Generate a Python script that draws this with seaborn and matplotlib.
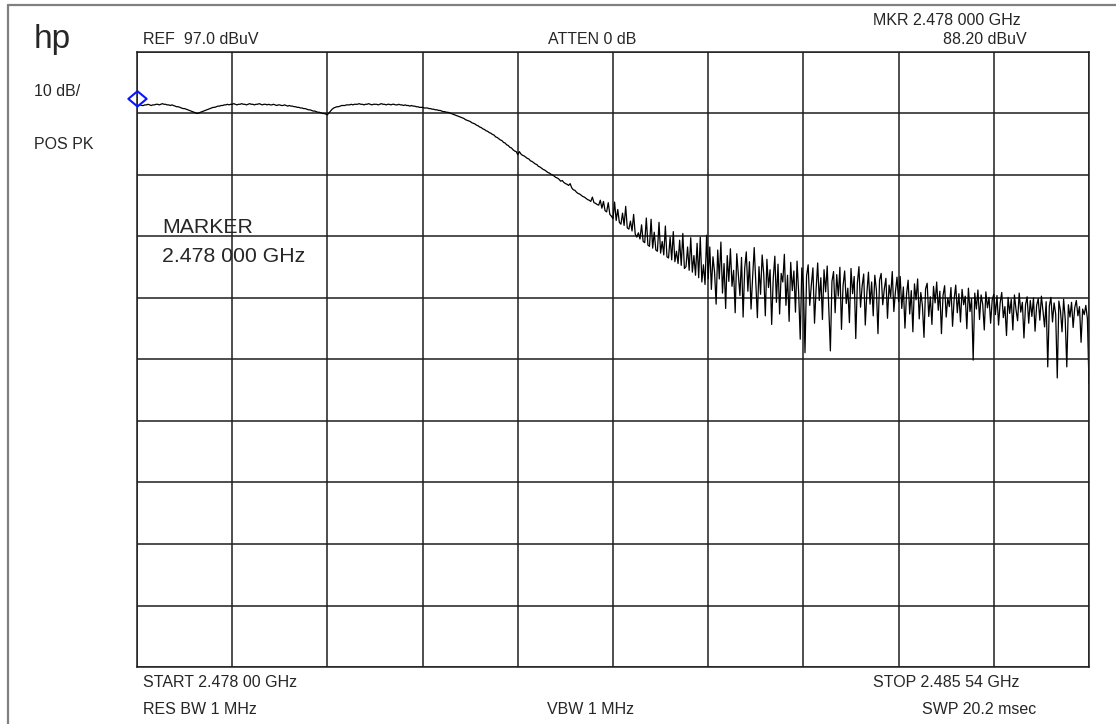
import numpy as np
import matplotlib as mpl
import matplotlib.pyplot as plt
import seaborn as sns
from matplotlib.lines import Line2D
from matplotlib.path import Path

# instrument settings
START_GHZ = 2.47800
STOP_GHZ = 2.48554
REF_DBUV = 97.0
DB_PER_DIV = 10
MARKER_GHZ = 2.478000
MARKER_DBUV = 88.20

# trace levels in dBuV (601 sweep points, left to right)
flat_part = [
    88.2, 88.3, 88.4, 88.3, 88.3, 88.4, 88.4, 88.5, 88.4, 88.3, 88.4, 88.4, 88.5, 88.5, 88.4, 88.5, 88.6, 88.5,
    88.5, 88.4, 88.4, 88.3, 88.4, 88.3, 88.2, 88.1, 88.1, 88.0,
    87.9, 87.8, 87.8, 87.7, 87.6, 87.5, 87.4, 87.3, 87.2, 87.1, 87.0,
    87.1, 87.2, 87.3, 87.4, 87.5, 87.6, 87.7, 87.8, 87.9, 88.0, 88.0, 88.1, 88.2, 88.2, 88.3, 88.3, 88.4, 88.4,
    88.5, 88.4, 88.5, 88.5, 88.6, 88.5, 88.4, 88.5, 88.5, 88.6, 88.5, 88.5, 88.4, 88.5, 88.6, 88.5, 88.5, 88.4,
    88.5, 88.5, 88.6, 88.5, 88.4, 88.5, 88.5, 88.4, 88.5, 88.4, 88.4, 88.5, 88.4, 88.3, 88.4, 88.4, 88.3, 88.3,
    88.4, 88.3, 88.2, 88.3,
    88.2, 88.2, 88.1, 88.1, 88.0, 88.0, 87.9, 87.9, 87.8, 87.8, 87.7, 87.6, 87.6, 87.5, 87.4, 87.4, 87.3, 87.2,
    87.2, 87.1, 87.0, 87.0, 86.9, 86.8,
    87.1, 87.4, 87.7, 87.9, 88.0, 88.1, 88.1, 88.2, 88.3, 88.3, 88.3, 88.4, 88.4, 88.4,
    88.5, 88.4, 88.5, 88.5, 88.5, 88.6, 88.5, 88.5, 88.4, 88.5, 88.5, 88.6, 88.5, 88.4, 88.5, 88.5, 88.5, 88.4,
    88.5, 88.6, 88.5, 88.5, 88.4, 88.5, 88.5, 88.4, 88.5, 88.5, 88.4, 88.4, 88.5, 88.4, 88.4, 88.3, 88.4, 88.3,
    88.3, 88.2, 88.3, 88.2, 88.2, 88.1, 88.1, 88.0,
]
rolloff_part = [
    88.0, 88.0, 87.9, 87.9, 87.9, 87.8, 87.8, 87.7, 87.7, 87.6, 87.6, 87.5, 87.5, 87.4, 87.3, 87.3, 87.2, 87.2,
    87.1, 87.0, 86.9, 86.8, 86.7, 86.6, 86.5, 86.4, 86.3, 86.2, 86.0, 85.9, 85.8, 85.7, 85.5, 85.4, 85.3, 85.1,
    85.0, 84.8, 84.7, 84.5, 84.4, 84.2, 84.1, 83.9, 83.8, 83.6, 83.5, 83.2, 83.1, 82.9, 82.7, 82.6, 82.3, 82.2,
    81.9, 81.8, 81.5, 81.4, 81.1, 80.9, 80.8, 80.3, 80.8, 80.4, 80.2, 80.1, 79.9, 79.7, 79.6, 79.3, 79.2, 79.0,
    78.8, 78.7, 78.4, 78.3, 78.1, 77.9, 77.8, 77.6, 77.4, 77.3, 77.1, 77.0, 76.8, 76.6, 76.5, 76.3, 76.0, 76.1,
    75.8, 75.6, 75.5, 75.3, 75.6, 74.9, 74.6, 74.5, 74.2, 74.0, 73.9, 73.7, 73.5, 73.4, 73.2, 73.0, 72.9, 72.7,
    73.4, 72.5, 72.4, 72.2,
]
spur_part = [
    72.1, 72.9, 71.6, 72.7, 71.2, 71.0, 72.5, 70.6, 70.3, 69.9, 72.6, 69.6, 71.4, 69.3, 69.0, 70.8, 68.8, 71.9,
    68.4, 68.2, 69.5, 67.9, 70.6, 67.4, 66.9, 67.6, 66.6, 68.9, 66.2, 66.0, 70.0, 65.6, 65.4, 69.8, 65.1, 67.7,
    64.8, 64.6, 69.3, 64.3, 66.2, 64.0, 68.7, 63.7, 63.5, 66.9, 63.2, 67.8, 62.9, 64.6, 62.6, 66.4, 62.3, 67.5,
    61.8, 62.1, 65.3, 61.5, 66.8, 61.2, 63.9, 60.7, 65.9, 60.3, 66.9, 59.6, 62.4, 59.2, 67.2, 60.1,
]
noise_part = [
    65.3, 58.4, 63.7, 61.2, 56.0, 64.8, 60.1, 66.1, 57.8, 62.6, 55.3, 63.9, 59.7, 65.0, 58.9, 61.5, 54.6, 64.2,
    60.8, 57.4, 63.6, 53.9, 61.8, 64.5, 58.1, 62.9, 55.2, 60.4, 65.2, 59.3, 53.8, 62.1, 57.6, 64.0, 60.9, 54.1,
    63.3, 58.7, 61.6, 52.7, 60.2, 63.8, 56.3, 62.5, 54.4, 61.0, 59.6, 64.1, 55.8, 60.7, 53.2, 62.8, 58.2, 61.4,
    54.7, 63.0, 57.9, 50.3, 61.9, 59.0,
    48.1, 60.6, 62.4, 55.8, 59.1, 61.9, 52.9, 58.4, 62.7, 56.6, 60.3, 53.5, 61.6, 58.0, 62.2, 55.2, 48.4, 59.7,
    61.3, 54.6, 60.8, 57.3, 62.0, 51.9, 59.0, 61.4, 56.1, 58.6, 53.0, 61.8, 57.7, 60.5, 50.4, 59.4, 62.1, 55.5,
    58.9, 60.9, 52.6, 57.8, 61.2, 56.0, 59.6, 54.1, 60.7, 58.3, 51.2, 59.9, 61.0, 55.9, 58.5, 60.2, 53.7, 59.1,
    57.2, 61.3, 54.8, 58.0, 60.4, 56.4,
    60.5, 55.3, 58.8, 52.1, 57.6, 59.9, 54.4, 58.2, 51.5, 59.3, 56.7, 60.1, 53.6, 57.9, 55.8, 50.6, 58.5, 59.4,
    54.0, 57.2, 52.7, 58.9, 56.2, 59.6, 55.0, 58.1, 51.2, 57.4, 59.0, 53.9, 57.0, 55.6, 58.7, 52.4, 56.8, 59.1,
    54.6, 57.7, 53.1, 58.4, 55.9, 57.3, 52.0, 58.6, 54.8, 56.9, 46.9, 57.8, 55.2, 58.3, 53.5, 57.5, 56.0, 51.8,
    58.0, 55.4, 57.1, 52.9, 56.7, 57.6,
    54.3, 57.4, 52.6, 56.2, 57.9, 53.8, 55.6, 50.9, 57.1, 54.5, 56.8, 51.8, 57.5, 55.1, 53.3, 57.8, 54.7, 56.3,
    50.5, 55.9, 57.2, 52.9, 56.6, 54.0, 57.0, 51.6, 55.8, 56.9, 53.4, 57.3, 54.9, 52.3, 56.4, 45.8, 55.7, 57.1,
    53.1, 56.2, 54.4, 44.0, 56.5, 55.0, 51.5, 56.8, 53.6, 45.8, 55.9, 53.9, 56.3, 52.2, 55.4, 56.6, 54.1, 55.6,
    49.8, 55.2, 54.3, 55.8, 53.6, 43.0,
]

W, H = 1116, 724


def px(x, y):
    # screen pixel -> figure fraction
    return x / W, 1 - y / H


sns.set_style("white")
plt.rcParams['font.family'] = ['Liberation Sans', 'DejaVu Sans']

level = np.array(flat_part + rolloff_part + spur_part + noise_part)
freq = np.linspace(START_GHZ, STOP_GHZ, len(level))

fig = plt.figure(figsize=(W / 100, H / 100), dpi=100)
x0, y1 = px(137, 52)
x1, y0 = px(1089, 667)
ax = fig.add_axes([x0, y0, x1 - x0, y1 - y0])

sns.lineplot(x=freq, y=level, ax=ax, color='black', lw=0.9, estimator=None, sort=False)

bottom_db = REF_DBUV - 10 * DB_PER_DIV
ax.set_xlim(START_GHZ, STOP_GHZ)
ax.set_ylim(bottom_db, REF_DBUV)
ax.set_xticks(np.linspace(START_GHZ, STOP_GHZ, 11))
ax.set_yticks(np.linspace(bottom_db, REF_DBUV, 11))
ax.tick_params(length=0, labelbottom=False, labelleft=False)
ax.grid(True, color='#1e1e1e', lw=1.1)
ax.set_axisbelow(True)
ax.set_xlabel('')
ax.set_ylabel('')
for s in ax.spines.values():
    s.set_color('#1e1e1e')
    s.set_linewidth(1.1)

# marker diamond sitting on the trace point
diamond = Path([(0, 0), (1.2, 1), (0, 2), (-1.2, 1), (0, 0)],
               [Path.MOVETO, Path.LINETO, Path.LINETO, Path.LINETO, Path.CLOSEPOLY])
ax.plot([MARKER_GHZ], [MARKER_DBUV], marker=diamond, ms=22, mfc='none', mec='#0a14ff',
        mew=1.5, clip_on=False, zorder=5)

# outer frame (top and left edges only)
fig.add_artist(Line2D([8 / W, 1], [1 - 5 / H, 1 - 5 / H], color='#808080', lw=1.6))
fig.add_artist(Line2D([8 / W, 8 / W], [1 - 5 / H, 0], color='#808080', lw=1.6))

fs = 11.5
fig.text(*px(34, 48), "hp", fontsize=24, va='baseline')
fig.text(*px(34, 96), "10 dB/", fontsize=fs, va='baseline')
fig.text(*px(34, 149), "POS PK", fontsize=fs, va='baseline')
fig.text(*px(143, 44), "REF  97.0 dBuV", fontsize=fs, va='baseline')
fig.text(*px(636, 44), "ATTEN 0 dB", fontsize=fs, va='baseline', ha='right')
fig.text(*px(1021, 25), "MKR 2.478 000 GHz", fontsize=fs, va='baseline', ha='right')
fig.text(*px(1027, 44), "88.20 dBuV", fontsize=fs, va='baseline', ha='right')
fig.text(*px(162, 233), "MARKER", fontsize=15.3, va='baseline')
fig.text(*px(162, 262), "2.478 000 GHz", fontsize=15.3, va='baseline')
fig.text(*px(143, 687), "START 2.478 00 GHz", fontsize=fs, va='baseline')
fig.text(*px(1019, 687), "STOP 2.485 54 GHz", fontsize=fs, va='baseline', ha='right')
fig.text(*px(143, 714), "RES BW 1 MHz", fontsize=fs, va='baseline')
fig.text(*px(634, 714), "VBW 1 MHz", fontsize=fs, va='baseline', ha='right')
fig.text(*px(1036, 714), "SWP 20.2 msec", fontsize=fs, va='baseline', ha='right')

fig.savefig("out.png", dpi=100, facecolor='white')
